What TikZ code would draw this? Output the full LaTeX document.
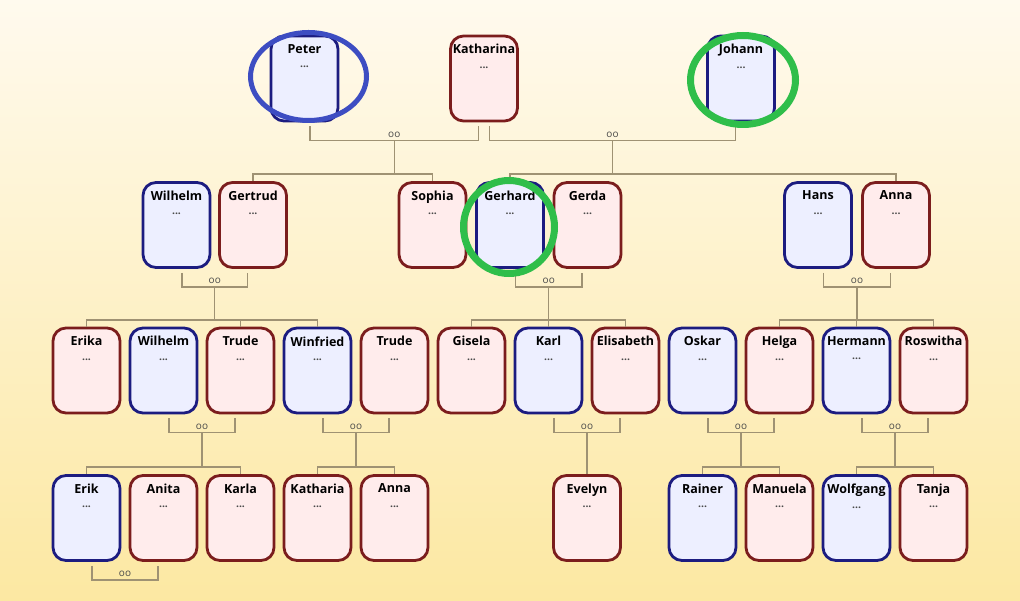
\documentclass[tikz,border=0pt]{standalone}
\usepackage{fontspec}
\setmainfont{Open Sans}

\definecolor{bgtop}{HTML}{FFFAEE}
\definecolor{bgbot}{HTML}{FCE8A2}
\definecolor{mfill}{HTML}{EDEFFF}
\definecolor{mdraw}{HTML}{1C1C80}
\definecolor{ffill}{HTML}{FFECEC}
\definecolor{fdraw}{HTML}{7B1D1D}
\definecolor{linkcol}{HTML}{9F9273}
\definecolor{dotgray}{HTML}{4A4A4A}
\definecolor{ringgreen}{HTML}{2FBE4A}
\definecolor{ringblue}{HTML}{3D4DC2}

\newcommand\who[1]{\parbox[t][68pt][t]{66pt}{\centering\textbf{#1}\\{\fontsize{10.5}{12}\selectfont\bfseries\color{dotgray}...}}}

\begin{document}
\begin{tikzpicture}[x=1pt,y=-1pt,
    box/.style={rectangle,rounded corners=13pt,line width=2.8pt,
      minimum width=67pt,minimum height=85pt,inner sep=0pt,font=\fontsize{12.5}{14.5}\selectfont},
    male/.style={box,draw=mdraw,fill=mfill},
    female/.style={box,draw=fdraw,fill=ffill},
    link/.style={draw=linkcol,line width=1.4pt},
    oo/.style={above,inner sep=1.5pt,yshift=1pt,text=dotgray,font=\fontsize{10}{11}\selectfont}]
  % background
  \shade[top color=bgtop,bottom color=bgbot] (0,0) rectangle (1020,601);
  % persons
  \foreach \n/\x/\y/\t in {peter/304.5/78.5/Peter, johann/741/78.5/Johann,
      wilhelm/176.5/225/Wilhelm, gerhard/510/225/Gerhard, hans/818/225/Hans,
      wilhelm2/163.5/370.5/Wilhelm, winfried/317.5/370.5/Winfried, karl/548.5/370.5/Karl,
      oskar/702.5/370.5/Oskar, hermann/856.5/370.5/Hermann,
      erik/86.5/518/Erik, rainer/702.5/518/Rainer, wolfgang/856.5/518/Wolfgang}
    \node[male] (\n) at (\x,\y) {\who{\t}};
  \foreach \n/\x/\y/\t in {katharina/484/78.5/Katharina,
      gertrud/253/225/Gertrud, sophia/432.5/225/Sophia, gerda/587.5/225/Gerda, anna/896/225/Anna,
      erika/86.5/370.5/Erika, trude/240.5/370.5/Trude, trude2/394.5/370.5/Trude,
      gisela/471.5/370.5/Gisela, elisabeth/625.5/370.5/Elisabeth, helga/779.5/370.5/Helga,
      roswitha/933.5/370.5/Roswitha,
      anita/163.5/518/Anita, karla/240.5/518/Karla, katharia/317.5/518/Katharia,
      anna2/394.5/518/Anna, evelyn/587/518/Evelyn, manuela/779.5/518/Manuela, tanja/933.5/518/Tanja}
    \node[female] (\n) at (\x,\y) {\who{\t}};
  % couples
  \foreach \a/\b/\c in {peter/katharina/pk, katharina/johann/kj,
      wilhelm/gertrud/wg, gerhard/gerda/gg, hans/anna/ha,
      wilhelm2/trude/wt, winfried/trude2/wit, karl/elisabeth/ke,
      oskar/helga/oh, hermann/roswitha/hr, erik/anita/ea}
    \draw[link] ([xshift=5.5pt,yshift=-4pt]\a.south) -- ++(0,14)
      -| ([xshift=-5.5pt,yshift=-4pt]\b.south)
      coordinate[pos=0.25] (\c) node[pos=0.25,oo] (\c oo) {oo};
  % children
  \coordinate (r2) at (0,174);
  \coordinate (r3) at (0,320);
  \coordinate (r4) at (0,467);
  \foreach \p/\l/\r/\row in {pk/gertrud/sophia/r2, kj/gerhard/anna/r2,
      wg/erika/winfried/r3, gg/gisela/elisabeth/r3, ha/helga/roswitha/r3,
      wt/erik/karla/r4, wit/katharia/anna2/r4, oh/rainer/manuela/r4, hr/wolfgang/tanja/r4} {
    \draw[link] (\p) -- (\p |- \row);
    \draw[link] (\l.north) -- (\l.north |- \row) -- (\r.north |- \row) -- (\r.north);
  }
  \foreach \c in {trude, karl, hermann}
    \draw[link] (\c.north) -- (\c.north |- r3);
  \draw[link] (ke) -- (ke |- evelyn.north);
  % marks
  \draw[ringblue,line width=5pt] (308.5,76.5) ellipse [x radius=58pt,y radius=44pt];
  \draw[ringgreen,line width=7pt] (743,80) ellipse [x radius=52.5pt,y radius=44.5pt];
  \draw[ringgreen,line width=7pt] (509,227) ellipse [x radius=45.5pt,y radius=46.5pt];
\end{tikzpicture}
\end{document}
